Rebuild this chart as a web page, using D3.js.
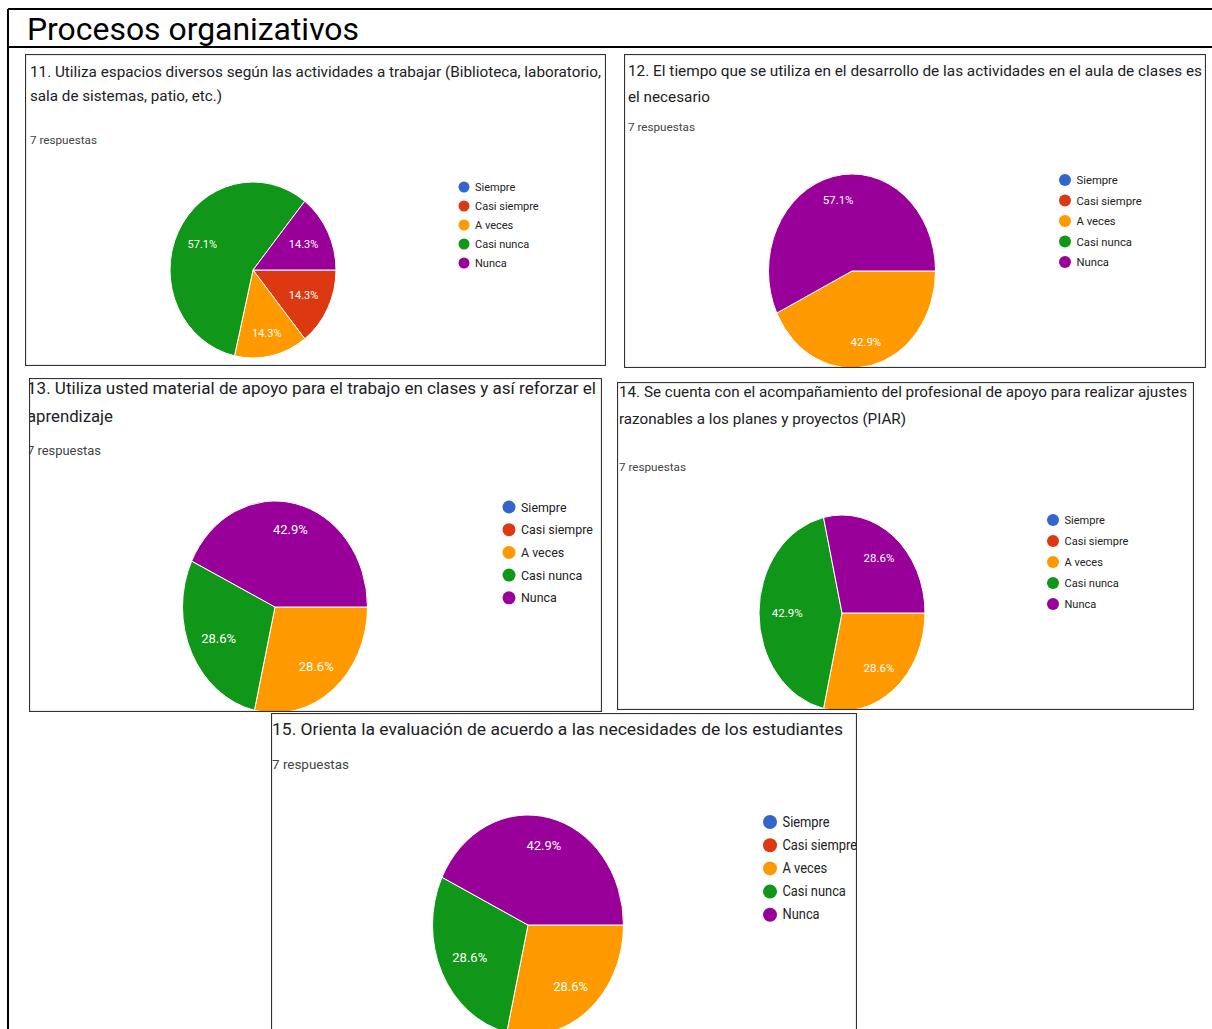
<!DOCTYPE html>
<html lang="es">
<head>
<meta charset="UTF-8">
<title>Procesos organizativos</title>
<script src="https://d3js.org/d3.v7.min.js"></script>
<style>
    body { margin: 0; background: #fff; }
    svg { display: block; }
    text { font-family: Roboto, "Noto Sans", sans-serif; }
</style>
</head>
<body>
<svg id="chart" width="1212" height="1029"></svg>
<script>
// answer categories and their colours (Google Forms palette)
const categories = ["Siempre", "Casi siempre", "A veces", "Casi nunca", "Nunca"];
const colors = ["#3366cc", "#dc3912", "#ff9900", "#109618", "#990099"];

// number of answers (7 respuestas) for each category
const q11 = [0, 1, 1, 4, 1];
const q12 = [0, 0, 3, 0, 4];
const q13 = [0, 0, 2, 2, 3];
const q14 = [0, 0, 2, 3, 2];
const q15 = [0, 0, 2, 2, 3];

const titles11 = ["11. Utiliza espacios diversos según las actividades a trabajar (Biblioteca, laboratorio,", "sala de sistemas, patio, etc.)"];
const titles12 = ["12. El tiempo que se utiliza en el desarrollo de las actividades en el aula de clases es", "el necesario"];
const titles13 = ["13. Utiliza usted material de apoyo  para el trabajo en clases y así reforzar el", "aprendizaje"];
const titles14 = ["14. Se cuenta con el acompañamiento del profesional de apoyo para realizar ajustes", "razonables a los planes y proyectos (PIAR)"];
const titles15 = ["15. Orienta la evaluación de acuerdo a las necesidades de los estudiantes"];
const responses = "7 respuestas";

// layout of each screenshot panel
const panels = [
    { values: q11, titles: titles11, box: [25, 54, 581, 312], tx: 30, ty: [72, 96], tw: [571, 192], tfs: 14,
      ry0: 140, rfs: 11, rw: 67, cx: 253, cy: 270, rx: 83, ry: 88, lx: 464, ly: 187, ls: 19, lfs: 11, lr: 5.5, lsx: 1, pfs: 11 },
    { values: q12, titles: titles12, box: [624, 54, 582, 314], tx: 628, ty: [71, 97], tw: [574, 82], tfs: 14,
      ry0: 127, rfs: 11, rw: 67, cx: 852, cy: 271, rx: 83.5, ry: 97, lx: 1065, ly: 180, ls: 20.5, lfs: 11.5, lr: 6, lsx: 0.98, pfs: 11.5 },
    { values: q13, titles: titles13, box: [29, 378, 573, 334], tx: 27, ty: [388, 416], tw: [569, 86], tfs: 16,
      ry0: 450, rfs: 12.5, rw: 74, cx: 275, cy: 607, rx: 92.5, ry: 106, lx: 509, ly: 507, ls: 22.7, lfs: 13.5, lr: 6.5, lsx: 0.92, pfs: 13 },
    { values: q14, titles: titles14, box: [617, 382, 577, 328], tx: 619, ty: [392, 419], tw: [568, 287], tfs: 15,
      ry0: 467, rfs: 11.5, rw: 67, cx: 842, cy: 613, rx: 83, ry: 98, lx: 1053, ly: 520, ls: 21, lfs: 11.5, lr: 6, lsx: 0.96, pfs: 11.5 },
    { values: q15, titles: titles15, box: [271, 713, 586, 330], tx: 272, ty: [729], tw: [571], tfs: 17,
      ry0: 764, rfs: 13, rw: 77, cx: 528, cy: 925, rx: 95.5, ry: 110, lx: 770, ly: 822, ls: 23.2, lfs: 14, lr: 7, lsx: 0.92, pfs: 13 }
];

const svg = d3.select("#chart");

// outer table frame and heading
svg.append("line").attr("x1", 8).attr("x2", 1212).attr("y1", 9).attr("y2", 9)
    .attr("stroke", "#000").attr("stroke-width", 2);
svg.append("line").attr("x1", 8).attr("x2", 1212).attr("y1", 47).attr("y2", 47)
    .attr("stroke", "#000").attr("stroke-width", 2);
svg.append("line").attr("x1", 8).attr("x2", 8).attr("y1", 9).attr("y2", 1029)
    .attr("stroke", "#000").attr("stroke-width", 2);
svg.append("text")
    .attr("x", 27).attr("y", 40)
    .attr("font-family", "Arial, 'Liberation Sans', sans-serif")
    .attr("font-size", 31)
    .attr("textLength", 332).attr("lengthAdjust", "spacingAndGlyphs")
    .attr("fill", "#000")
    .text("Procesos organizativos");

const pie = d3.pie().sort(null).value(d => d).startAngle(Math.PI / 2).endAngle(Math.PI / 2 + 2 * Math.PI);
const arc = d3.arc().innerRadius(0).outerRadius(100);

// labels sit a bit further out near the top and bottom of the stretched pies
const labelK = a => 0.66 + 0.09 * Math.cos(a) * Math.cos(a);

panels.forEach((p, i) => {
    const [bx, by, bw, bh] = p.box;
    const clipId = "clip" + i;
    svg.append("clipPath").attr("id", clipId)
        .append("rect").attr("x", bx).attr("y", by).attr("width", bw).attr("height", bh);

    const g = svg.append("g").attr("clip-path", `url(#${clipId})`);
    g.append("rect").attr("x", bx).attr("y", by).attr("width", bw).attr("height", bh).attr("fill", "#fff");

    // question title
    p.titles.forEach((t, j) => {
        g.append("text")
            .attr("x", p.tx).attr("y", p.ty[j])
            .attr("dominant-baseline", "central")
            .attr("font-size", p.tfs)
            .attr("fill", "#202124")
            .attr("textLength", p.tw[j]).attr("lengthAdjust", "spacingAndGlyphs")
            .text(t);
    });
    g.append("text")
        .attr("x", p.tx).attr("y", p.ry0)
        .attr("dominant-baseline", "central")
        .attr("font-size", p.rfs)
        .attr("fill", "#444")
        .attr("textLength", p.rw).attr("lengthAdjust", "spacingAndGlyphs")
        .text(responses);

    // pie (screenshots are stretched, so draw an ellipse)
    const total = d3.sum(p.values);
    const slices = pie(p.values).filter(d => d.value > 0);
    g.append("g")
        .attr("transform", `translate(${p.cx},${p.cy}) scale(${p.rx / 100},${p.ry / 100})`)
        .selectAll("path")
        .data(slices)
        .join("path")
        .attr("d", arc)
        .attr("fill", d => colors[d.index])
        .attr("stroke", "#fff")
        .attr("stroke-width", 1)
        .attr("vector-effect", "non-scaling-stroke");

    g.selectAll(".pct")
        .data(slices)
        .join("text")
        .attr("class", "pct")
        .attr("x", d => {
            const a = (d.startAngle + d.endAngle) / 2;
            return p.cx + labelK(a) * p.rx * Math.sin(a);
        })
        .attr("y", d => {
            const a = (d.startAngle + d.endAngle) / 2;
            return p.cy - labelK(a) * p.ry * Math.cos(a);
        })
        .attr("text-anchor", "middle")
        .attr("dominant-baseline", "central")
        .attr("font-size", p.pfs)
        .attr("fill", "#fff")
        .text(d => d3.format(".1f")(d.value / total * 100) + "%");

    // legend
    const leg = g.selectAll(".leg")
        .data(categories)
        .join("g")
        .attr("class", "leg")
        .attr("transform", (d, k) => `translate(${p.lx},${p.ly + k * p.ls})`);
    leg.append("circle").attr("r", p.lr).attr("fill", (d, k) => colors[k]);
    leg.append("text")
        .attr("transform", `translate(${p.lr + 5.5},0) scale(${p.lsx},1)`)
        .attr("dominant-baseline", "central")
        .attr("font-size", p.lfs)
        .attr("fill", "#222")
        .text(d => d);

    // panel border
    g.append("rect").attr("x", bx + 0.5).attr("y", by + 0.5).attr("width", bw - 1).attr("height", bh - 1)
        .attr("fill", "none").attr("stroke", "#333").attr("stroke-width", 1.2);
});
</script>
</body>
</html>
